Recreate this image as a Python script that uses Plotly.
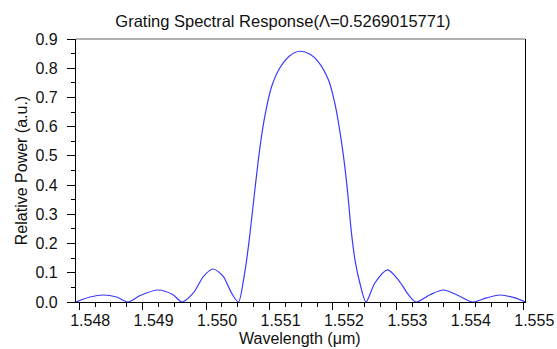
import plotly.graph_objects as go

wavelength = [
    1.54795, 1.54817, 1.54838, 1.54859, 1.54877,
    1.54896, 1.54924, 1.54948, 1.54962,
    1.54980, 1.54996, 1.55011, 1.55027, 1.55040, 1.55051,
    1.55059, 1.55064, 1.55069, 1.55077, 1.55085, 1.55093, 1.55103, 1.55116, 1.55132,
    1.55148,
    1.55164, 1.55177, 1.55193, 1.55203, 1.55214, 1.55222, 1.55229, 1.55235, 1.55243, 1.55252,
    1.55266, 1.55286, 1.55303, 1.55319, 1.55331,
    1.55353, 1.55374, 1.55395, 1.55420,
    1.55442, 1.55464, 1.55487, 1.55503,
]
power = [
    0.000, 0.017, 0.024, 0.017, 0.000,
    0.022, 0.041, 0.025, 0.000,
    0.031, 0.088, 0.113, 0.088, 0.031, 0.000,
    0.075, 0.145, 0.230, 0.385, 0.530, 0.640, 0.735, 0.800, 0.843,
    0.858,
    0.848, 0.822, 0.760, 0.680, 0.540, 0.400, 0.240, 0.140, 0.060, 0.000,
    0.065, 0.110, 0.076, 0.025, 0.000,
    0.025, 0.041, 0.025, 0.000,
    0.014, 0.024, 0.014, 0.000,
]

x_ticks = [1.548, 1.549, 1.550, 1.551, 1.552, 1.553, 1.554, 1.555]
x_labels = ["1.548", "1.549", "1.550", "1.551", "1.552", "1.553", "1.554", "1.555"]
y_ticks = [0.0, 0.1, 0.2, 0.3, 0.4, 0.5, 0.6, 0.7, 0.8, 0.9]
y_labels = ["0.0", "0.1", "0.2", "0.3", "0.4", "0.5", "0.6", "0.7", "0.8", "0.9"]

FONT = "Liberation Sans, Arial, sans-serif"

fig = go.Figure()
fig.add_trace(go.Scatter(
    x=wavelength, y=power, mode="lines",
    line=dict(color="#3a3aff", width=1.2, shape="spline", smoothing=0.8),
    showlegend=False, cliponaxis=True, hoverinfo="skip",
))

fig.update_layout(
    width=557, height=349,
    margin=dict(l=76, r=32, t=39, b=47, autoexpand=False),
    paper_bgcolor="white", plot_bgcolor="white",
    font=dict(family=FONT, size=16, color="#111"),
    title=dict(text="Grating Spectral Response(Λ=0.5269015771)",
               x=0.508, xanchor="center", y=1 - 15 / 349, yanchor="top",
               font=dict(family=FONT, size=16.5, color="#111")),
    xaxis=dict(
        range=[1.54795, 1.555027], showgrid=False, zeroline=False, automargin=False,
        showline=True, linecolor="black", linewidth=1.2,
        tickmode="array", tickvals=x_ticks, ticktext=x_labels,
        ticks="outside", ticklen=7, tickcolor="black", tickwidth=1,
        ticklabelshift=11, ticklabelstandoff=-3,
        minor=dict(dtick=0.00025, tick0=1.548, ticks="outside", ticklen=4,
                   tickcolor="black", showgrid=False),
    ),
    yaxis=dict(
        range=[0, 0.9], showgrid=False, zeroline=False, automargin=False,
        showline=True, linecolor="black", linewidth=1.2, mirror=True,
        tickmode="array", tickvals=y_ticks, ticktext=y_labels,
        ticks="outside", ticklen=8, tickcolor="black", tickwidth=1,
        ticklabelstandoff=6,
        minor=dict(dtick=0.05, tick0=0, ticks="outside", ticklen=4,
                   tickcolor="black", showgrid=False),
        title=dict(text="Relative Power (a.u.)", font=dict(size=16), standoff=3),
    ),
    annotations=[dict(text="Wavelength (μm)", xref="paper", yref="paper",
                      x=0.499, y=-0.138, xanchor="center", yanchor="middle",
                      showarrow=False, font=dict(size=16, color="#111"))],
    shapes=[dict(type="line", xref="paper", yref="paper", x0=0, x1=1, y0=1, y1=1,
                 line=dict(color="#999", width=1.5))],
)

fig.write_html(
    "out.html",
    config={"displayModeBar": False},
    post_script="document.body.style.margin='0';document.body.style.overflow='hidden';",
)
